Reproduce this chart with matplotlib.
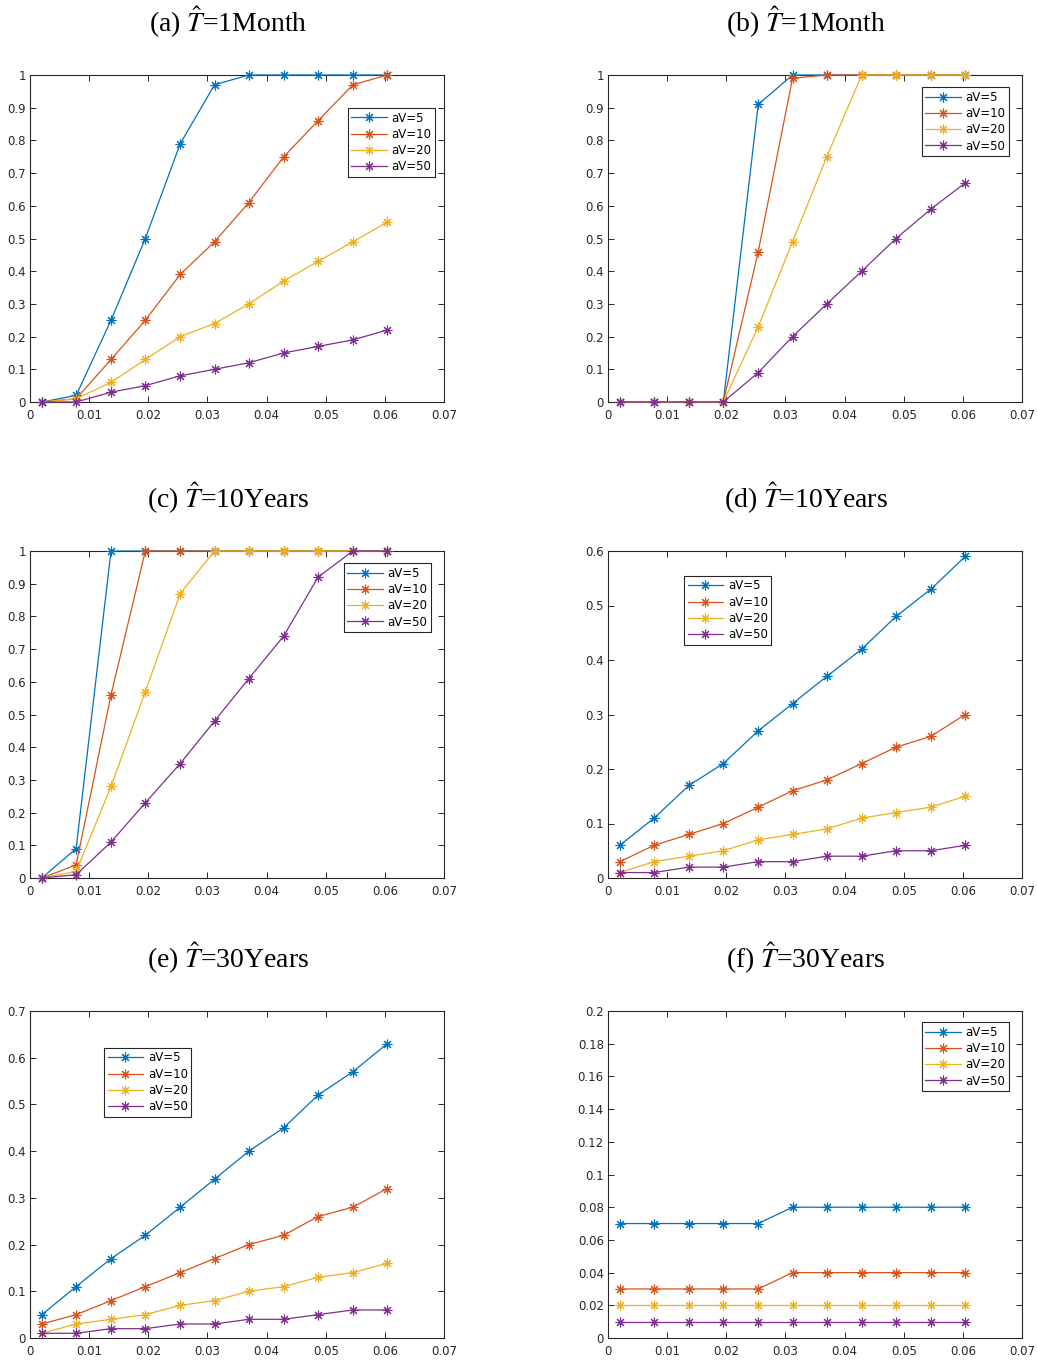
import numpy as np
import matplotlib
matplotlib.use('Agg')
import matplotlib.pyplot as plt
from matplotlib.ticker import FuncFormatter

plt.rcParams['mathtext.fontset'] = 'stix'

# x positions shared by all panels
x = [0.002, 0.0078, 0.0137, 0.0195, 0.0254, 0.0312, 0.0370, 0.0429, 0.0487, 0.0546, 0.0604]
labels = ['aV=5', 'aV=10', 'aV=20', 'aV=50']
colors = ['#0072BD', '#D95319', '#EDB120', '#7E2F8E']

titles = [r'(a) $\hat{T}$=1Month', r'(b) $\hat{T}$=1Month',
          r'(c) $\hat{T}$=10Years', r'(d) $\hat{T}$=10Years',
          r'(e) $\hat{T}$=30Years', r'(f) $\hat{T}$=30Years']

# panel (a)
a_5 = [0, 0.02, 0.25, 0.50, 0.79, 0.97, 1, 1, 1, 1, 1]
a_10 = [0, 0.01, 0.13, 0.25, 0.39, 0.49, 0.61, 0.75, 0.86, 0.97, 1]
a_20 = [0, 0.01, 0.06, 0.13, 0.20, 0.24, 0.30, 0.37, 0.43, 0.49, 0.55]
a_50 = [0, 0, 0.03, 0.05, 0.08, 0.10, 0.12, 0.15, 0.17, 0.19, 0.22]
# panel (b)
b_5 = [0, 0, 0, 0, 0.91, 1, 1, 1, 1, 1, 1]
b_10 = [0, 0, 0, 0, 0.46, 0.99, 1, 1, 1, 1, 1]
b_20 = [0, 0, 0, 0, 0.23, 0.49, 0.75, 1, 1, 1, 1]
b_50 = [0, 0, 0, 0, 0.09, 0.20, 0.30, 0.40, 0.50, 0.59, 0.67]
# panel (c)
c_5 = [0, 0.09, 1, 1, 1, 1, 1, 1, 1, 1, 1]
c_10 = [0, 0.04, 0.56, 1, 1, 1, 1, 1, 1, 1, 1]
c_20 = [0, 0.02, 0.28, 0.57, 0.87, 1, 1, 1, 1, 1, 1]
c_50 = [0, 0.01, 0.11, 0.23, 0.35, 0.48, 0.61, 0.74, 0.92, 1, 1]
# panel (d)
d_5 = [0.06, 0.11, 0.17, 0.21, 0.27, 0.32, 0.37, 0.42, 0.48, 0.53, 0.59]
d_10 = [0.03, 0.06, 0.08, 0.10, 0.13, 0.16, 0.18, 0.21, 0.24, 0.26, 0.30]
d_20 = [0.01, 0.03, 0.04, 0.05, 0.07, 0.08, 0.09, 0.11, 0.12, 0.13, 0.15]
d_50 = [0.01, 0.01, 0.02, 0.02, 0.03, 0.03, 0.04, 0.04, 0.05, 0.05, 0.06]
# panel (e)
e_5 = [0.05, 0.11, 0.17, 0.22, 0.28, 0.34, 0.40, 0.45, 0.52, 0.57, 0.63]
e_10 = [0.03, 0.05, 0.08, 0.11, 0.14, 0.17, 0.20, 0.22, 0.26, 0.28, 0.32]
e_20 = [0.01, 0.03, 0.04, 0.05, 0.07, 0.08, 0.10, 0.11, 0.13, 0.14, 0.16]
e_50 = [0.01, 0.01, 0.02, 0.02, 0.03, 0.03, 0.04, 0.04, 0.05, 0.06, 0.06]
# panel (f)
f_5 = [0.07, 0.07, 0.07, 0.07, 0.07, 0.08, 0.08, 0.08, 0.08, 0.08, 0.08]
f_10 = [0.03, 0.03, 0.03, 0.03, 0.03, 0.04, 0.04, 0.04, 0.04, 0.04, 0.04]
f_20 = [0.02] * 11
f_50 = [0.01] * 11

panels = [[a_5, a_10, a_20, a_50], [b_5, b_10, b_20, b_50],
          [c_5, c_10, c_20, c_50], [d_5, d_10, d_20, d_50],
          [e_5, e_10, e_20, e_50], [f_5, f_10, f_20, f_50]]
ylims = [(0, 1, 0.1), (0, 1, 0.1), (0, 1, 0.1), (0, 0.6, 0.1), (0, 0.7, 0.1), (0, 0.2, 0.02)]
# legend upper-left corner in axes fraction
leg_pos = [(0.768, 0.899), (0.758, 0.963), (0.758, 0.963),
           (0.184, 0.924), (0.179, 0.887), (0.758, 0.966)]

W, H = 1037, 1360
fig = plt.figure(figsize=(W / 100, H / 100), dpi=100)

lefts = [30, 608]
tops = [75, 551, 1011]
aw, ah = 414, 327

fmt = FuncFormatter(lambda v, p: ('%g' % round(v, 4)))

for i, series in enumerate(panels):
    col, row = i % 2, i // 2
    l, t = lefts[col], tops[row]
    ax = fig.add_axes([l / W, 1 - (t + ah) / H, aw / W, ah / H])
    for s, c, lab in zip(series, colors, labels):
        ax.plot(x, s, color=c, lw=0.9, marker=(8, 2, 0), markersize=7,
                markeredgewidth=0.8, label=lab, clip_on=False, zorder=3)
    y0, y1, st = ylims[i]
    ax.set_xlim(0, 0.07)
    ax.set_ylim(y0, y1)
    ax.set_xticks(np.arange(0, 0.0701, 0.01))
    ax.set_yticks(np.arange(y0, y1 + st / 2, st))
    ax.xaxis.set_major_formatter(fmt)
    ax.yaxis.set_major_formatter(fmt)
    ax.tick_params(direction='in', top=True, right=True, length=4, width=0.7,
                   labelsize=8.5, colors='#262626')
    ax.tick_params(axis='x', pad=5)
    ax.tick_params(axis='y', pad=3)
    for sp in ax.spines.values():
        sp.set_linewidth(0.8)
        sp.set_color('#262626')
    leg = ax.legend(loc='upper left', bbox_to_anchor=leg_pos[i], fontsize=8.5,
                    fancybox=False, edgecolor='#262626', framealpha=1,
                    handlelength=3.0, handletextpad=0.4, borderpad=0.3,
                    labelspacing=0.28, borderaxespad=0)
    leg.get_frame().set_linewidth(0.8)
    fig.text((l + aw / 2 - 9) / W, 1 - (t - 53) / H, titles[i], ha='center', va='center',
             fontsize=20, family='Liberation Serif')

fig.savefig('out.png', dpi=100)
